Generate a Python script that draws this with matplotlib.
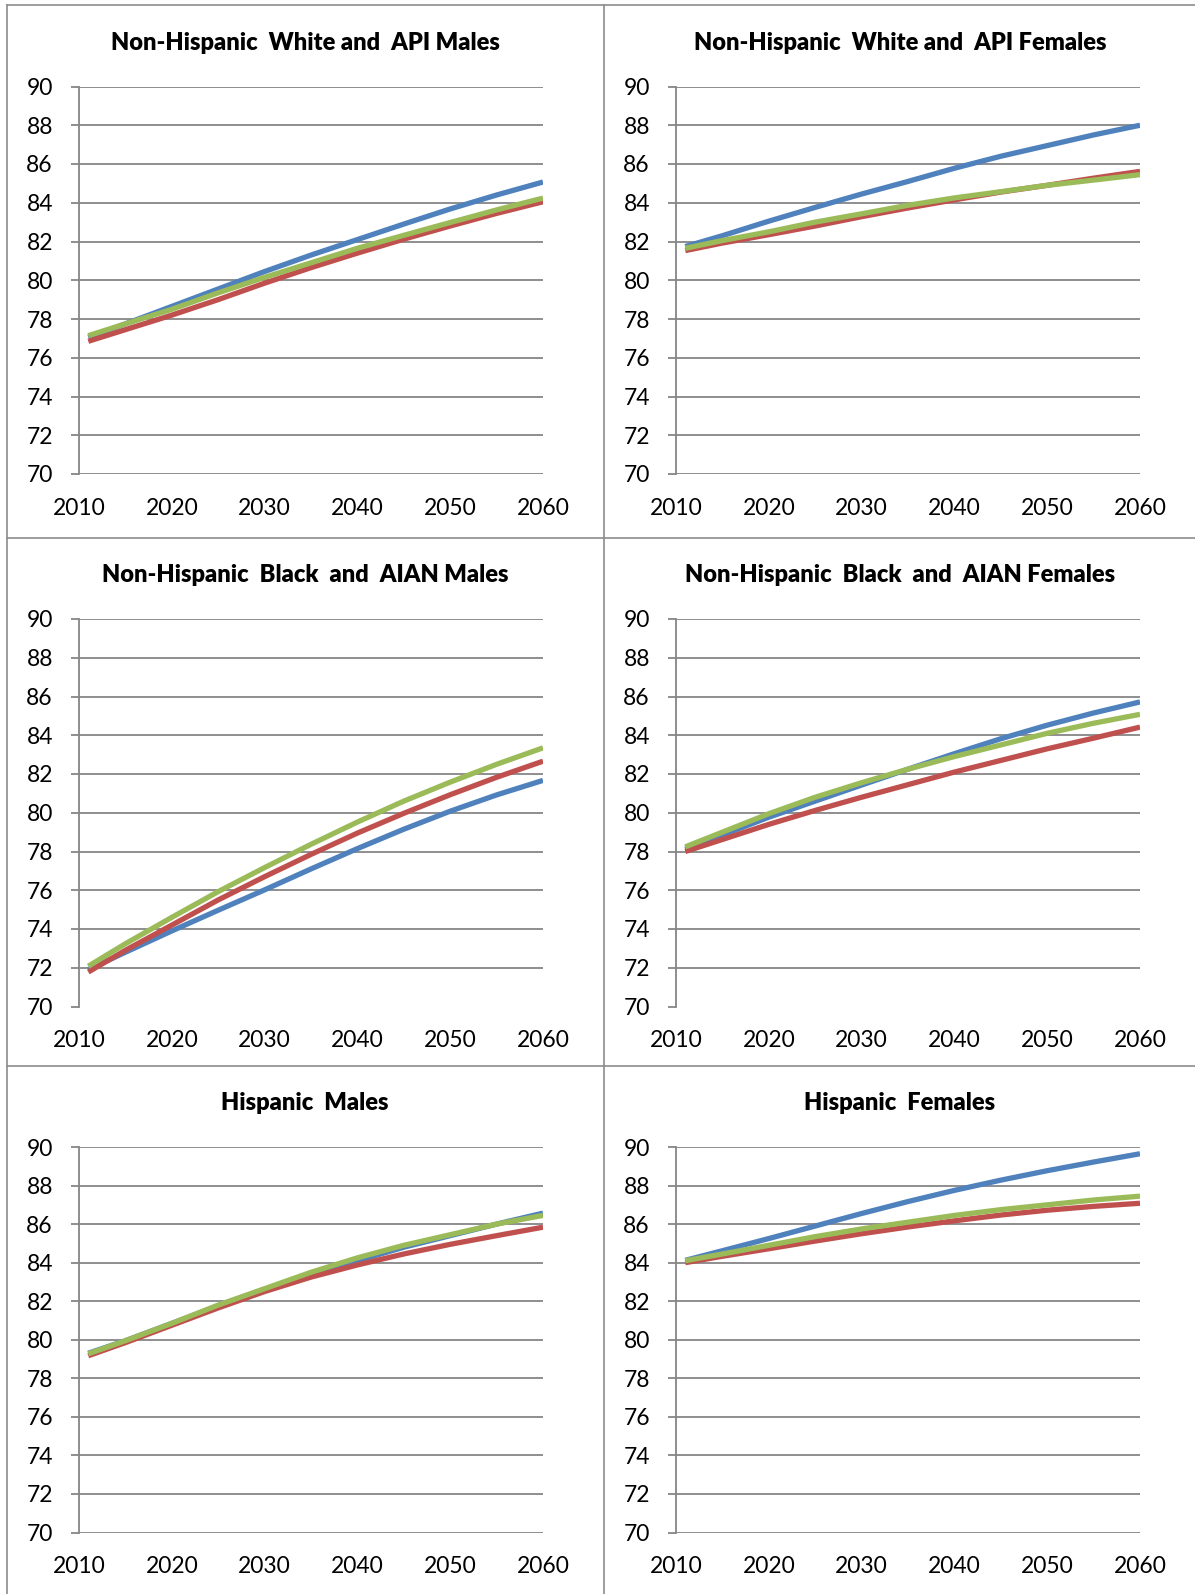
import matplotlib
matplotlib.use("Agg")
import matplotlib.pyplot as plt
from matplotlib.lines import Line2D

plt.rcParams['font.family'] = ['Lato', 'DejaVu Sans']

years = [2011, 2015, 2020, 2025, 2030, 2035, 2040, 2045, 2050, 2055, 2060]

titles = [
    "Non-Hispanic  White and  API Males",
    "Non-Hispanic  White and  API Females",
    "Non-Hispanic  Black  and  AIAN Males",
    "Non-Hispanic  Black  and  AIAN Females",
    "Hispanic  Males",
    "Hispanic  Females",
]

# Panel 1: Non-Hispanic White and API Males
p1_blue = [77.05, 77.75, 78.65, 79.55, 80.45, 81.3, 82.1, 82.9, 83.68, 84.4, 85.07]
p1_red = [76.85, 77.45, 78.2, 79.0, 79.85, 80.65, 81.4, 82.12, 82.8, 83.45, 84.05]
p1_green = [77.14, 77.75, 78.5, 79.35, 80.15, 80.9, 81.65, 82.32, 82.98, 83.63, 84.24]

# Panel 2: Non-Hispanic White and API Females
p2_blue = [81.74, 82.3, 83.05, 83.76, 84.45, 85.1, 85.78, 86.4, 86.95, 87.5, 88.0]
p2_red = [81.53, 81.92, 82.35, 82.8, 83.28, 83.73, 84.15, 84.55, 84.9, 85.27, 85.62]
p2_green = [81.65, 82.05, 82.5, 83.0, 83.43, 83.87, 84.25, 84.57, 84.9, 85.17, 85.45]

# Panel 3: Non-Hispanic Black and AIAN Males
p3_blue = [71.9, 72.8, 73.9, 74.97, 76.02, 77.1, 78.15, 79.15, 80.08, 80.92, 81.67]
p3_red = [71.78, 72.9, 74.2, 75.5, 76.7, 77.85, 78.95, 79.97, 80.93, 81.83, 82.66]
p3_green = [72.08, 73.24, 74.6, 75.93, 77.17, 78.37, 79.52, 80.6, 81.58, 82.5, 83.35]

# Panel 4: Non-Hispanic Black and AIAN Females
p4_blue = [78.12, 78.85, 79.77, 80.6, 81.43, 82.25, 83.05, 83.82, 84.52, 85.15, 85.72]
p4_red = [78.0, 78.62, 79.4, 80.12, 80.8, 81.45, 82.1, 82.7, 83.3, 83.85, 84.42]
p4_green = [78.24, 79.0, 79.95, 80.8, 81.55, 82.25, 82.9, 83.5, 84.1, 84.62, 85.08]

# Panel 5: Hispanic Males
p5_blue = [79.3, 79.95, 80.85, 81.75, 82.6, 83.4, 84.1, 84.8, 85.4, 86.0, 86.57]
p5_red = [79.17, 79.85, 80.75, 81.65, 82.5, 83.25, 83.88, 84.45, 84.95, 85.4, 85.84]
p5_green = [79.27, 79.95, 80.85, 81.8, 82.65, 83.5, 84.25, 84.9, 85.45, 86.0, 86.45]

# Panel 6: Hispanic Females
p6_blue = [84.12, 84.62, 85.25, 85.9, 86.55, 87.17, 87.75, 88.28, 88.77, 89.22, 89.65]
p6_red = [84.0, 84.33, 84.72, 85.12, 85.5, 85.85, 86.17, 86.47, 86.72, 86.92, 87.08]
p6_green = [84.1, 84.45, 84.9, 85.35, 85.75, 86.1, 86.45, 86.75, 87.0, 87.25, 87.45]

panels = [
    (p1_blue, p1_red, p1_green),
    (p2_blue, p2_red, p2_green),
    (p3_blue, p3_red, p3_green),
    (p4_blue, p4_red, p4_green),
    (p5_blue, p5_red, p5_green),
    (p6_blue, p6_red, p6_green),
]

x_ticks = [2010, 2020, 2030, 2040, 2050, 2060]
y_ticks = [70, 72, 74, 76, 78, 80, 82, 84, 86, 88, 90]

BLUE = "#4F81BD"
RED = "#C0504D"
GREEN = "#9BBB59"
GRID = "#868686"

W, H = 1195, 1594
fig = plt.figure(figsize=(W / 100, H / 100), dpi=100)

cols = [(79, 543), (676, 1140)]
rows = [(86.5, 474), (619, 1006.5), (1147, 1532.5)]
title_x = [305, 900]
title_y = [42.5, 575, 1103.5]

for i, (blue, red, green) in enumerate(panels):
    r, c = divmod(i, 2)
    x0, x1 = cols[c]
    y0, y1 = rows[r]
    ax = fig.add_axes([x0 / W, 1 - y1 / H, (x1 - x0) / W, (y1 - y0) / H])
    ax.plot(years, blue, color=BLUE, lw=3.8, solid_capstyle='butt', solid_joinstyle='round', zorder=3)
    ax.plot(years, red, color=RED, lw=3.8, solid_capstyle='butt', solid_joinstyle='round', zorder=4)
    ax.plot(years, green, color=GREEN, lw=3.8, solid_capstyle='butt', solid_joinstyle='round', zorder=5)
    ax.set_xlim(2010, 2060)
    ax.set_ylim(70, 90)
    ax.set_xticks(x_ticks)
    ax.set_yticks(y_ticks)
    ax.set_xticklabels([str(t) for t in x_ticks])
    ax.set_yticklabels([str(t) for t in y_ticks])
    ax.grid(axis='y', color=GRID, lw=1.3, zorder=1)
    for s in ['top', 'right', 'bottom']:
        ax.spines[s].set_visible(False)
    ax.spines['left'].set_color(GRID)
    ax.spines['left'].set_linewidth(1.3)
    ax.tick_params(axis='y', length=5.8, width=1.3, color=GRID, pad=13,
                   labelsize=16.5, labelcolor='black')
    ax.tick_params(axis='x', length=0, pad=17, labelsize=16.5, labelcolor='black')
    ax.set_facecolor('none')
    fig.text(title_x[c] / W, 1 - title_y[r] / H, titles[i], ha='center', va='center',
             fontsize=17, fontweight='heavy', color='black')

# panel frame lines
BORDER = "#8C8C8C"
def hline(y, xa, xb):
    fig.add_artist(Line2D([xa / W, xb / W], [1 - y / H, 1 - y / H], color=BORDER, lw=1.2,
                          transform=fig.transFigure))
def vline(x, ya, yb):
    fig.add_artist(Line2D([x / W, x / W], [1 - ya / H, 1 - yb / H], color=BORDER, lw=1.2,
                          transform=fig.transFigure))

hline(5, 7, W)
hline(537.5, 7, W)
hline(1066, 7, W)
vline(7, 5, H)
vline(603.5, 5, H)

fig.savefig("out.png", dpi=100)
